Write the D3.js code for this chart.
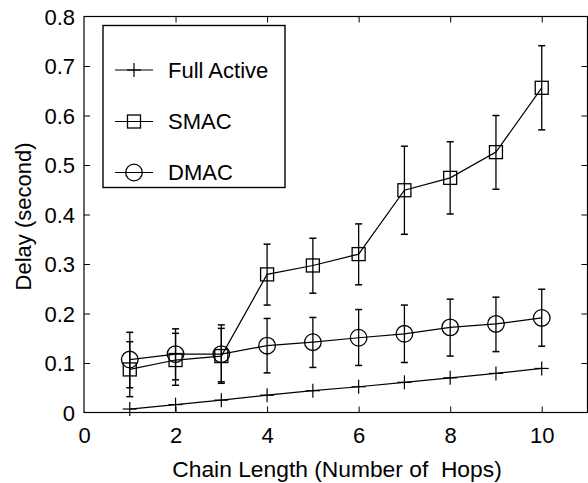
<!DOCTYPE html>
<html>
<head>
<meta charset="utf-8">
<script src="https://cdn.jsdelivr.net/npm/d3@7"></script>
<style>
  html, body { margin: 0; padding: 0; background: #fff; }
  svg { display: block; }
  text { font-family: "Liberation Sans", Arial, Helvetica, sans-serif; fill: #000; }
</style>
</head>
<body>
<svg id="chart" width="588" height="483"></svg>
<script>
// ---- data ----
const hops = [1, 2, 3, 4, 5, 6, 7, 8, 9, 10];
const fullActive = [0.007, 0.016, 0.025, 0.035, 0.044, 0.052, 0.061, 0.070, 0.079, 0.089];
const smac      = [0.087, 0.106, 0.114, 0.279, 0.297, 0.320, 0.449, 0.474, 0.526, 0.656];
const smacLow   = [0.032, 0.055, 0.059, 0.217, 0.241, 0.258, 0.360, 0.401, 0.451, 0.571];
const smacHigh  = [0.143, 0.160, 0.170, 0.340, 0.352, 0.381, 0.538, 0.547, 0.600, 0.741];
const dmac      = [0.107, 0.118, 0.118, 0.135, 0.142, 0.151, 0.159, 0.172, 0.179, 0.191];
const dmacLow   = [0.050, 0.066, 0.062, 0.080, 0.091, 0.095, 0.101, 0.114, 0.123, 0.134];
const dmacHigh  = [0.162, 0.169, 0.177, 0.190, 0.192, 0.208, 0.217, 0.229, 0.233, 0.249];
const xTicks = [0, 2, 4, 6, 8, 10];
const yTicks = [0, 0.1, 0.2, 0.3, 0.4, 0.5, 0.6, 0.7, 0.8];
const legendLabels = ["Full Active", "SMAC", "DMAC"];
const xLabel = "Chain Length (Number of  Hops)";
const yLabel = "Delay (second)";

// ---- layout ----
const pL = 84, pR = 587.5, pT = 16.5, pB = 412.5;
const svg = d3.select("#chart");
const x = d3.scaleLinear().domain([0, 11]).range([pL, pR]);
const y = d3.scaleLinear().domain([0, 0.8]).range([pB, pT]);
const FS = 22;
const tickLen = 6;

// axes (MATLAB style: ticks inside, box all round)
const gB = svg.append("g").attr("transform", `translate(0,${pB})`)
  .call(d3.axisBottom(x).tickValues(xTicks).tickSizeInner(-tickLen).tickSizeOuter(0).tickPadding(16).tickFormat(d3.format("d")));
const gT = svg.append("g").attr("transform", `translate(0,${pT})`)
  .call(d3.axisTop(x).tickValues(xTicks).tickSizeInner(-tickLen).tickSizeOuter(0).tickFormat(""));
const gL = svg.append("g").attr("transform", `translate(${pL},0)`)
  .call(d3.axisLeft(y).tickValues(yTicks).tickSizeInner(-tickLen).tickSizeOuter(0).tickPadding(9).tickFormat(d => d === 0 ? "0" : d3.format(".1f")(d)));
const gR = svg.append("g").attr("transform", `translate(${pR},0)`)
  .call(d3.axisRight(y).tickValues(yTicks).tickSizeInner(-tickLen).tickSizeOuter(0).tickFormat(""));

[gB, gT, gL, gR].forEach(g => {
  g.select(".domain").remove();
  g.selectAll(".tick line").attr("stroke", "#000").attr("stroke-width", 1);
  g.selectAll("text").attr("font-size", FS).attr("font-family", "Liberation Sans, Arial, sans-serif").attr("fill", "#000");
});
gB.selectAll(".tick text").attr("dy", null)
  .attr("y", 443 - pB).attr("dominant-baseline", "alphabetic");
gL.selectAll(".tick text").attr("x", 75 - pL).attr("dy", "0.36em");
gB.selectAll(".tick line").filter(d => d === 0).remove();
gT.selectAll(".tick line").filter(d => d === 0).remove();
gL.selectAll(".tick line").filter(d => d === 0 || d === 0.8).remove();
gR.selectAll(".tick line").filter(d => d === 0 || d === 0.8).remove();

svg.append("rect")
  .attr("x", pL).attr("y", pT).attr("width", pR - pL).attr("height", pB - pT)
  .attr("fill", "none").attr("stroke", "#000").attr("stroke-width", 1.2);

// axis labels
svg.append("text")
  .attr("x", 337).attr("y", 477)
  .attr("text-anchor", "middle").attr("font-size", 22.8)
  .style("white-space", "pre")
  .text(xLabel);
svg.append("text")
  .attr("transform", `translate(31,${(pT + pB) / 2 + 2}) rotate(-90)`)
  .attr("text-anchor", "middle").attr("font-size", FS)
  .text(yLabel);

// ---- series ----
const line = d3.line().x(d => x(d[0])).y(d => y(d[1]));
const series = [
  { name: legendLabels[0], vals: fullActive, marker: "plus" },
  { name: legendLabels[1], vals: smac, low: smacLow, high: smacHigh, marker: "square" },
  { name: legendLabels[2], vals: dmac, low: dmacLow, high: dmacHigh, marker: "circle" }
];

function drawMarker(g, type, cx, cy) {
  if (type === "plus") {
    const h = 7;
    g.append("line").attr("x1", cx - h).attr("x2", cx + h).attr("y1", cy).attr("y2", cy)
      .attr("stroke", "#000").attr("stroke-width", 1.2);
    g.append("line").attr("x1", cx).attr("x2", cx).attr("y1", cy - h).attr("y2", cy + h)
      .attr("stroke", "#000").attr("stroke-width", 1.2);
  } else if (type === "square") {
    const h = 6.5;
    g.append("rect").attr("x", cx - h).attr("y", cy - h).attr("width", 2 * h).attr("height", 2 * h)
      .attr("fill", "none").attr("stroke", "#000").attr("stroke-width", 1.3);
  } else {
    g.append("circle").attr("cx", cx).attr("cy", cy).attr("r", 8.3)
      .attr("fill", "none").attr("stroke", "#000").attr("stroke-width", 1.3);
  }
}

const plot = svg.append("g");
series.forEach(s => {
  const pts = hops.map((h, i) => [h, s.vals[i]]);
  plot.append("path").attr("d", line(pts)).attr("fill", "none")
    .attr("stroke", "#000").attr("stroke-width", 1.2);
  if (s.low) {
    hops.forEach((h, i) => {
      const cx = x(h), y1 = y(s.low[i]), y2 = y(s.high[i]);
      plot.append("line").attr("x1", cx).attr("x2", cx).attr("y1", y1).attr("y2", y2)
        .attr("stroke", "#000").attr("stroke-width", 1.3);
      [y1, y2].forEach(yy => plot.append("line")
        .attr("x1", cx - 3.5).attr("x2", cx + 3.5).attr("y1", yy).attr("y2", yy)
        .attr("stroke", "#000").attr("stroke-width", 1.5));
    });
  }
  hops.forEach((h, i) => drawMarker(plot, s.marker, x(h), y(s.vals[i])));
});

// ---- legend ----
const lg = svg.append("g");
lg.append("rect").attr("x", 103).attr("y", 25.5).attr("width", 182).attr("height", 162)
  .attr("fill", "#fff").attr("stroke", "#000").attr("stroke-width", 1.4);
const legendY = [70, 121.5, 172.5];
series.forEach((s, i) => {
  const ly = legendY[i];
  lg.append("line").attr("x1", 115).attr("x2", 153).attr("y1", ly).attr("y2", ly)
    .attr("stroke", "#000").attr("stroke-width", 1.2);
  drawMarker(lg, s.marker, 134, ly);
  lg.append("text").attr("x", 168).attr("y", ly + 7.5).attr("font-size", FS).text(s.name);
});
</script>
</body>
</html>
